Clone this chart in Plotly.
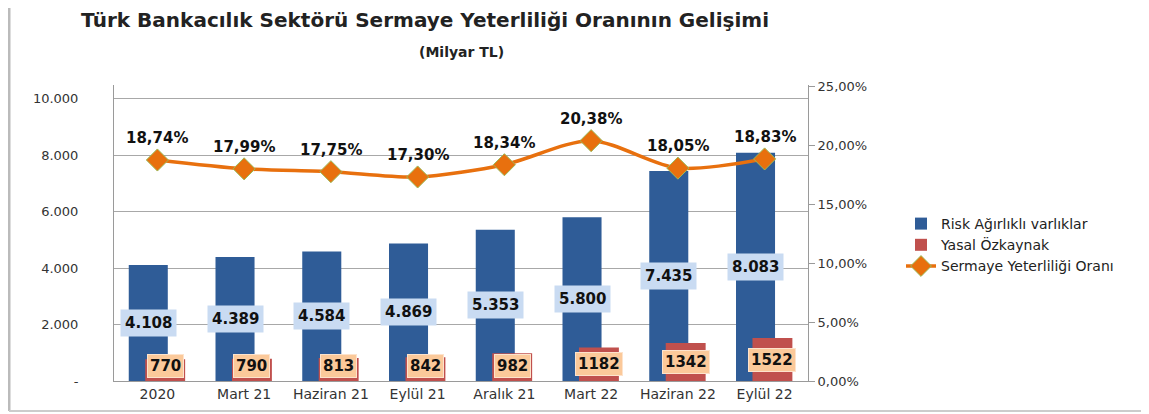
import plotly.graph_objects as go

categories = ["2020", "Mart 21", "Haziran 21", "Eylül 21", "Aralık 21", "Mart 22", "Haziran 22", "Eylül 22"]
risk_agirlikli = [4108, 4389, 4584, 4869, 5353, 5800, 7435, 8083]
yasal_ozkaynak = [770, 790, 813, 842, 982, 1182, 1342, 1522]
syo = [18.74, 17.99, 17.75, 17.30, 18.34, 20.38, 18.05, 18.83]

left_ticks = [0, 2000, 4000, 6000, 8000, 10000]
left_ticktext = ["-", "2.000", "4.000", "6.000", "8.000", "10.000"]
right_ticks = [0, 5, 10, 15, 20, 25]
right_ticktext = ["0,00%", "5,00%", "10,00%", "15,00%", "20,00%", "25,00%"]

FONT = "DejaVu Sans"
xs = list(range(len(categories)))

# page is offset by the browser's 8px body margin
W, H = 1141, 406
ML, MR, MT, MB = 106, 341, 77, 33
PW, PH = W - ML - MR, H - MT - MB

fig = go.Figure()
fig.add_trace(go.Bar(
    x=xs, y=risk_agirlikli, name="Risk Ağırlıklı varlıklar",
    marker=dict(color="#2F5C97", line=dict(width=0)),
    width=0.45, offset=-0.33,
))
fig.add_trace(go.Bar(
    x=xs, y=yasal_ozkaynak, name="Yasal Özkaynak",
    marker=dict(color="#C0504D", line=dict(width=0)),
    width=0.46, offset=-0.14,
))
fig.add_trace(go.Scatter(
    x=xs, y=syo, name="Sermaye Yeterliliği Oranı", yaxis="y2",
    mode="lines+markers", line=dict(color="#E8700E", width=3.5, shape="spline", smoothing=0.8),
    marker=dict(symbol="diamond", size=17, color="#E8700E", line=dict(color="#9BBB59", width=1)),
))

annotations = []
for i, (r, o, s) in enumerate(zip(risk_agirlikli, yasal_ozkaynak, syo)):
    annotations.append(dict(
        x=i - 0.33 + 0.225, y=r / 2, xref="x", yref="y",
        text=f"{r/1000:.3f}", showarrow=False,
        font=dict(family=FONT, size=15, color="#111111", weight="bold"),
        bgcolor="#C9DBF2", borderpad=4,
    ))
    annotations.append(dict(
        x=i - 0.14 + 0.23, y=max(o / 2, 540), xref="x", yref="y",
        text=f"{o}", showarrow=False,
        font=dict(family=FONT, size=15, color="#111111", weight="bold"),
        bgcolor="#FBC99A", bordercolor="#FDE3CC", borderwidth=1, borderpad=2,
    ))
    annotations.append(dict(
        x=i, y=s, xref="x", yref="y2", yshift=22,
        text=f"{s:.2f}%".replace(".", ","), showarrow=False,
        font=dict(family=FONT, size=15, color="#111111", weight="bold"),
    ))

annotations.append(dict(
    x=(453 - ML) / PW, y=1 + (MT - 34) / PH, xref="paper", yref="paper",
    text="(Milyar TL)", showarrow=False,
    font=dict(family=FONT, size=14, color="#222222", weight="bold"),
))

fig.update_layout(
    width=W, height=H,
    margin=dict(l=ML, r=MR, t=MT, b=MB),
    paper_bgcolor="white", plot_bgcolor="white",
    barmode="overlay", showlegend=True,
    font=dict(family=FONT, color="#333333"),
    xaxis=dict(
        tickmode="array", tickvals=xs, ticktext=categories, range=[-0.5, 7.5],
        showline=True, linecolor="#9A9A9A", ticks="", showgrid=False,
        tickfont=dict(family=FONT, size=14, color="#333333"),
    ),
    yaxis=dict(
        range=[0, 10480], tickmode="array", tickvals=left_ticks, ticktext=left_ticktext,
        showline=True, linecolor="#9A9A9A", showgrid=True, gridcolor="#A8A8A8", gridwidth=1,
        tickfont=dict(family=FONT, size=13, color="#333333"), ticks="", ticklabelstandoff=32,
        zeroline=False,
    ),
    yaxis2=dict(
        overlaying="y", side="right", range=[0, 25.1],
        tickmode="array", tickvals=right_ticks, ticktext=right_ticktext,
        showline=True, linecolor="#9A9A9A", showgrid=False, ticks="outside", ticklen=6,
        tickcolor="#9A9A9A",
        tickfont=dict(family=FONT, size=13, color="#333333"), zeroline=False,
    ),
    legend=dict(
        x=(893 - ML) / PW, y=(MT + PH - 200) / PH, xanchor="left", yanchor="top",
        font=dict(family=FONT, size=14, color="#222222"),
        bgcolor="rgba(0,0,0,0)", tracegroupgap=2,
    ),
    title=dict(
        text="Türk Bankacılık Sektörü Sermaye Yeterliliği Oranının Gelişimi",
        x=417 / W, xanchor="center", y=1 - 12 / H, yanchor="middle",
        font=dict(family=FONT, size=20, color="#222222", weight="bold"),
    ),
    annotations=annotations,
    shapes=[
        dict(type="line", xref="paper", yref="paper",
             x0=(1 - ML) / PW, x1=(1 - ML) / PW, y0=-(403 - MT - PH) / PH, y1=1 + MT / PH,
             line=dict(color="#BBBBBB", width=3)),
        dict(type="line", xref="paper", yref="paper",
             x0=(1 - ML) / PW, x1=(W - ML) / PW, y0=-(403 - MT - PH) / PH, y1=-(403 - MT - PH) / PH,
             line=dict(color="#CCCCCC", width=2)),
    ],
)

fig.write_html("out.html")
